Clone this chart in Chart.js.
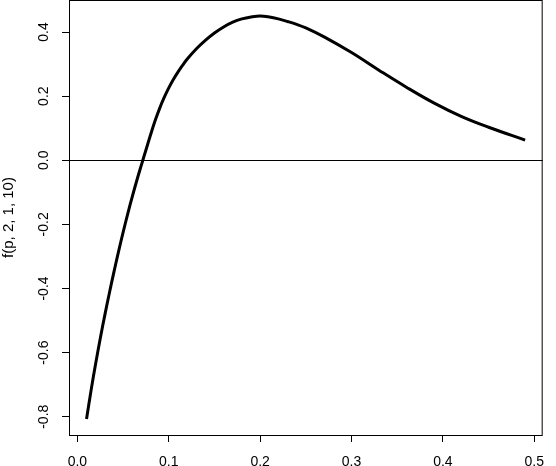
<!DOCTYPE html>
<html>
<head>
<meta charset="utf-8">
<script src="https://cdn.jsdelivr.net/npm/chart.js@4"></script>
<style>
  html, body { margin: 0; padding: 0; background: #ffffff; }
  #wrap { width: 556px; height: 466px; }
</style>
</head>
<body>
<div id="wrap"><canvas id="chart" width="556" height="466"></canvas></div>
<script>
// values
const pValues = [0.01, 0.015, 0.02, 0.025, 0.03, 0.035, 0.04, 0.045, 0.05, 0.055,
  0.06, 0.065, 0.07, 0.075, 0.08, 0.085, 0.09, 0.095, 0.10, 0.105,
  0.11, 0.115, 0.12, 0.13, 0.14, 0.15, 0.16, 0.17, 0.18, 0.19,
  0.20, 0.21, 0.22, 0.23, 0.24, 0.25, 0.27, 0.30, 0.33, 0.36,
  0.39, 0.42, 0.45, 0.49];
const fValues = [-0.807, -0.717, -0.634, -0.556, -0.483, -0.414, -0.348, -0.285, -0.225, -0.168,
  -0.114, -0.063, -0.015, 0.032, 0.079, 0.123, 0.162, 0.196, 0.226, 0.252,
  0.275, 0.296, 0.315, 0.347, 0.374, 0.397, 0.416, 0.431, 0.441, 0.447,
  0.450, 0.447, 0.441, 0.433, 0.424, 0.413, 0.385, 0.336, 0.281, 0.228,
  0.179, 0.137, 0.103, 0.063];

const xTicks = [0.0, 0.1, 0.2, 0.3, 0.4, 0.5];
const yTicks = [-0.8, -0.6, -0.4, -0.2, 0.0, 0.2, 0.4];
const xLimits = [-0.0092, 0.5092];
const yLimits = [-0.857, 0.5];
const hLine = 0;
const yTitle = 'f(p, 2, 1, 10)';

const FONT = 'Liberation Sans, Arial, Helvetica, sans-serif';

// box, abline(h = 0) and rotated y labels, R style
const rPlot = {
  id: 'rPlot',
  afterDatasetsDraw(chart) {
    const ctx = chart.ctx;
    const a = chart.chartArea;
    const ys = chart.scales.y;
    ctx.save();
    ctx.strokeStyle = '#000';
    ctx.lineWidth = 1;

    const yz = Math.round(ys.getPixelForValue(hLine)) + 0.5;
    ctx.beginPath();
    ctx.moveTo(a.left, yz);
    ctx.lineTo(a.right, yz);
    ctx.stroke();

    ctx.strokeRect(a.left + 0.5, a.top + 0.5, a.right - a.left - 1, a.bottom - a.top);

    ctx.fillStyle = '#000';
    ctx.font = '14px ' + FONT;
    ctx.textAlign = 'center';
    ctx.textBaseline = 'middle';
    yTicks.forEach((v) => {
      const py = ys.getPixelForValue(v);
      ctx.save();
      ctx.translate(44, py);
      ctx.rotate(-Math.PI / 2);
      ctx.fillText(v.toFixed(1), 0, 0);
      ctx.restore();
    });
    ctx.restore();
  }
};

new Chart(document.getElementById('chart'), {
  type: 'scatter',
  data: {
    datasets: [{
      data: pValues.map((p, i) => ({ x: p, y: fValues[i] })),
      showLine: true,
      borderColor: '#000',
      borderWidth: 3,
      pointRadius: 0,
      tension: 0.4,
      borderJoinStyle: 'round',
      borderCapStyle: 'butt'
    }]
  },
  options: {
    responsive: false,
    animation: false,
    layout: { padding: 0 },
    plugins: {
      legend: { display: false },
      tooltip: { enabled: false }
    },
    scales: {
      x: {
        type: 'linear',
        min: xLimits[0],
        max: xLimits[1],
        afterBuildTicks: (s) => { s.ticks = xTicks.map((v) => ({ value: v })); },
        afterFit: (s) => { s.height = 31; },
        border: { display: false },
        grid: { drawOnChartArea: false, drawTicks: true, tickLength: 7, tickColor: '#000', tickWidth: 1 },
        ticks: {
          color: '#000',
          font: { family: FONT, size: 14 },
          padding: 12,
          maxRotation: 0,
          autoSkip: false,
          callback: (v) => Number(v).toFixed(1)
        }
      },
      y: {
        type: 'linear',
        min: yLimits[0],
        max: yLimits[1],
        afterBuildTicks: (s) => { s.ticks = yTicks.map((v) => ({ value: v })); },
        afterFit: (s) => { s.width = 69; },
        border: { display: false },
        grid: { drawOnChartArea: false, drawTicks: true, tickLength: 7, tickColor: '#000', tickWidth: 1 },
        ticks: { display: false },
        title: {
          display: true,
          text: yTitle,
          color: '#000',
          font: { family: FONT, size: 15 },
          padding: 0
        }
      }
    }
  },
  plugins: [rPlot]
});
</script>
</body>
</html>
